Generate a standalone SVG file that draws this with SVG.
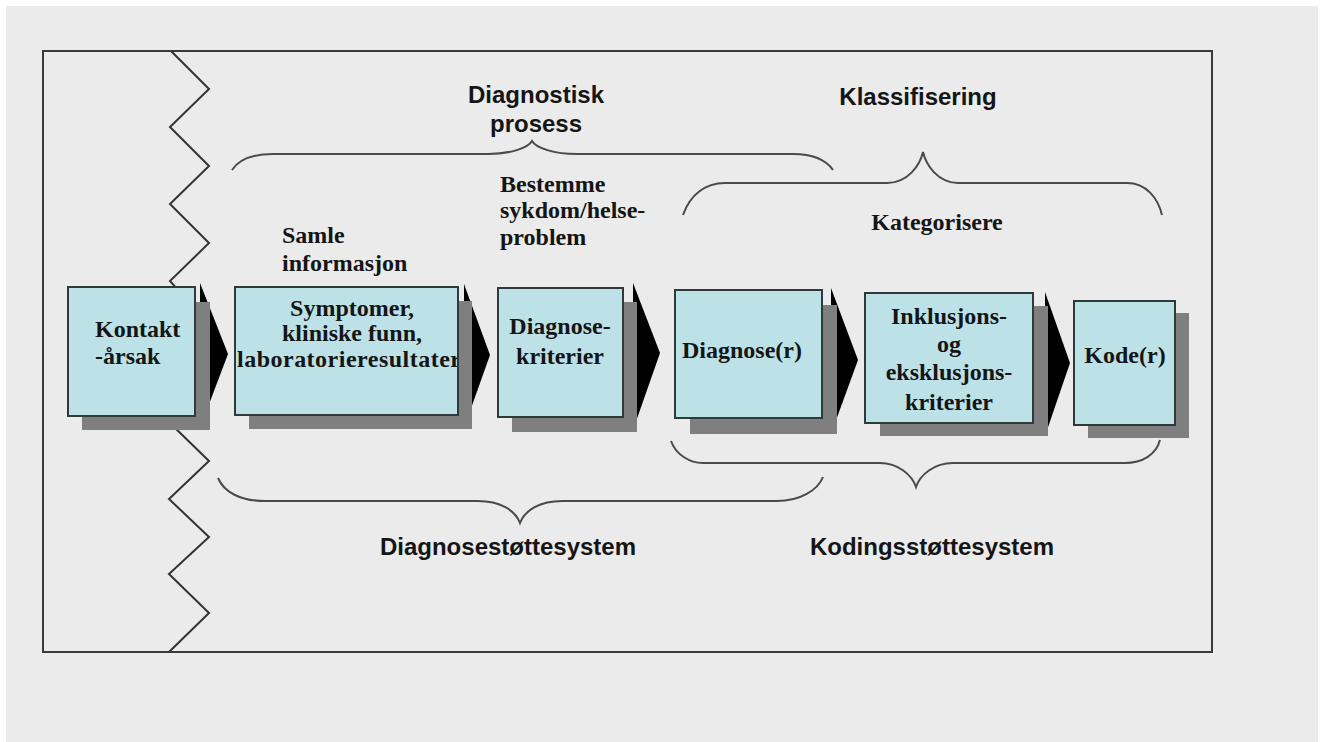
<svg xmlns="http://www.w3.org/2000/svg" width="1320" height="742" viewBox="0 0 1320 742">
<defs>
<style>
.sb{font-family:"Liberation Serif","Times New Roman",serif;font-weight:bold;font-size:24px;fill:#151515}
.ab{font-family:"Liberation Sans",Arial,sans-serif;font-weight:bold;font-size:24px;fill:#151515}
.box{fill:#bce2e7;stroke:#2f3a3c;stroke-width:2}
.sh{fill:#7f7f7f}
.arr{fill:#000}
.brace{fill:none;stroke:#4a4a4a;stroke-width:2}
.zz{fill:none;stroke:#333;stroke-width:2}
</style>
<clipPath id="c2"><rect x="236" y="288" width="221" height="126"/></clipPath>
</defs>
<rect x="0" y="0" width="1320" height="742" fill="#ffffff"/>
<rect x="6" y="6" width="1312" height="736" fill="#ebebeb"/>
<rect x="43" y="51" width="1169" height="601" fill="#ebebeb" stroke="#3a3a3a" stroke-width="2"/>
<polyline class="zz" points="171,51 209,89 170,127 209,166 170,204 209,243 170,281 205,320 175,358 205,397 170,423 209,461 169,499 209,537 169,574 209,613 169,652"/>
<g id="connectors">
<path class="brace" d="M232,170 C240,158 255,154 273,154 L488,154 C510,154 528,148 532,141 C536,148 554,154 577,154 L793,154 C812,154 826,160 833,170"/>
<path class="brace" d="M683,215 C690,195 705,183 725,183 L887,183 C908,183 920,165 923,152 C926,165 938,183 958,183 L1127,183 C1146,183 1158,198 1162,215"/>
<path class="brace" d="M218,478 C224,492 240,501 265,501 L478,501 C500,501 515,510 520,523 C525,510 540,501 562,501 L777,501 C800,501 818,490 823,477"/>
<path class="brace" d="M671,441 C676,455 690,463 703,463 L880,463 C898,463 912,475 916,487 C920,475 934,463 953,463 L1125,463 C1142,463 1156,455 1160,440"/>
<polygon class="arr" points="200,283 228,354 200,428"/>
<polygon class="arr" points="464,284 490,355 464,428"/>
<polygon class="arr" points="633,283 660,353 633,430"/>
<polygon class="arr" points="831,288 858,360 831,434"/>
<polygon class="arr" points="1045,292 1070,363 1045,436"/>
</g>
<g id="labels">
<text class="ab" x="536" y="103" text-anchor="middle">Diagnostisk</text>
<text class="ab" x="536" y="132" text-anchor="middle">prosess</text>
<text class="ab" x="918" y="105" text-anchor="middle">Klassifisering</text>
<text class="sb" x="937" y="230" text-anchor="middle">Kategorisere</text>
<text class="sb" x="282" y="243">Samle</text>
<text class="sb" x="282" y="271">informasjon</text>
<text class="sb" x="500" y="192">Bestemme</text>
<text class="sb" x="500" y="218">sykdom/helse-</text>
<text class="sb" x="500" y="245">problem</text>
<text class="ab" x="508" y="555" text-anchor="middle">Diagnosestøttesystem</text>
<text class="ab" x="932" y="555" text-anchor="middle">Kodingsstøttesystem</text>
</g>
<g id="n-kontakt">
<rect class="sh" x="82" y="302" width="128" height="128"/>
<rect class="box" x="68" y="287" width="127" height="129"/>
<text class="sb" x="95" y="337">Kontakt</text>
<text class="sb" x="95" y="364">-årsak</text>
</g>
<g id="n-symptomer">
<rect class="sh" x="249" y="301" width="223" height="128"/>
<rect class="box" x="235" y="287" width="223" height="128"/>
<g clip-path="url(#c2)">
<text class="sb" x="352" y="316" text-anchor="middle">Symptomer,</text>
<text class="sb" x="352" y="341" text-anchor="middle">kliniske funn,</text>
<text class="sb" x="237" y="367" textLength="224" lengthAdjust="spacing">laboratorieresultater</text>
</g>
</g>
<g id="n-kriterier">
<rect class="sh" x="512" y="302" width="125" height="130"/>
<rect class="box" x="498" y="288" width="125" height="129"/>
<text class="sb" x="560" y="334" text-anchor="middle">Diagnose-</text>
<text class="sb" x="560" y="364" text-anchor="middle">kriterier</text>
</g>
<g id="n-diagnose">
<rect class="sh" x="690" y="305" width="147" height="129"/>
<rect class="box" x="675" y="290" width="147" height="128"/>
<text class="sb" x="682" y="358">Diagnose(r)</text>
</g>
<g id="n-inklusjon">
<rect class="sh" x="880" y="306" width="168" height="130"/>
<rect class="box" x="865" y="293" width="168" height="130"/>
<text class="sb" x="949" y="324" text-anchor="middle">Inklusjons-</text>
<text class="sb" x="949" y="352" text-anchor="middle">og</text>
<text class="sb" x="949" y="380" text-anchor="middle">eksklusjons-</text>
<text class="sb" x="949" y="410" text-anchor="middle">kriterier</text>
</g>
<g id="n-kode">
<rect class="sh" x="1088" y="313" width="101" height="125"/>
<rect class="box" x="1074" y="301" width="101" height="124"/>
<text class="sb" x="1125" y="363" text-anchor="middle">Kode(r)</text>
</g>
</svg>
